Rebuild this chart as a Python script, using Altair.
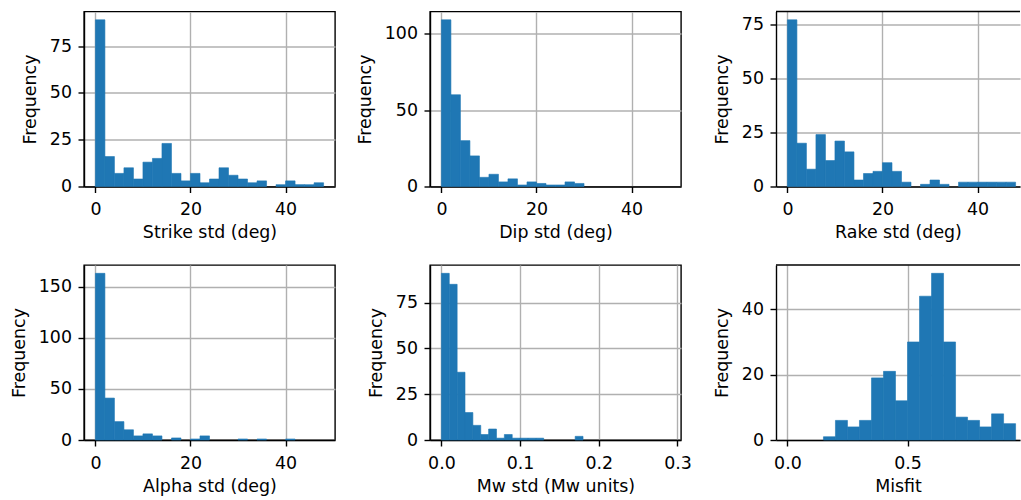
import altair as alt
import pandas as pd

# ---- bin edges (histogram bins) ----
DEG_EDGES = [0, 2, 4, 6, 8, 10, 12, 14, 16, 18, 20, 22, 24, 26, 28, 30, 32, 34, 36, 38, 40, 42, 44, 46, 48]
MW_EDGES = [0.00, 0.01, 0.02, 0.03, 0.04, 0.05, 0.06, 0.07, 0.08, 0.09, 0.10, 0.11, 0.12, 0.13, 0.14,
            0.15, 0.16, 0.17, 0.18, 0.19, 0.20, 0.21, 0.22, 0.23, 0.24, 0.25, 0.26, 0.27, 0.28, 0.29]
MISFIT_EDGES = [0.00, 0.05, 0.10, 0.15, 0.20, 0.25, 0.30, 0.35, 0.40, 0.45, 0.50,
                0.55, 0.60, 0.65, 0.70, 0.75, 0.80, 0.85, 0.90, 0.95]

# ---- counts per bin ----
STRIKE = [89, 16, 7, 10, 4, 13, 15, 23, 7, 3, 7, 2, 4, 10, 6, 4, 2, 3, 0, 1, 3, 1, 1, 2]
DIP = [109, 60, 30, 20, 6, 8, 3, 5, 1, 3, 2, 1, 1, 3, 2, 0, 0, 0, 0, 0, 0, 0, 0, 0]
RAKE = [77, 20, 8, 24, 12, 21, 16, 3, 6, 7, 11, 7, 2, 0, 1, 3, 1, 0, 2, 2, 2, 2, 2, 2]
ALPHA = [163, 41, 18, 10, 4, 6, 4, 0, 2, 0, 1, 4, 0, 0, 0, 1, 0, 1, 0, 0, 1, 0, 0, 0]
MW = [91, 85, 37, 15, 8, 3, 6, 1, 3, 1, 1, 1, 1, 0, 0, 0, 0, 2, 0, 0, 0, 0, 0, 0, 0, 0, 0, 0, 0]
MISFIT = [0, 0, 0, 1, 6, 4, 6, 19, 21, 12, 30, 44, 51, 30, 7, 6, 4, 8, 5]

# ---- tick labels ----
DEG_XTICKS = [0, 20, 40]
MW_XTICKS = [0.0, 0.1, 0.2, 0.3]
MISFIT_XTICKS = [0.0, 0.5]
STRIKE_YTICKS = [0, 25, 50, 75]
DIP_YTICKS = [0, 50, 100]
RAKE_YTICKS = [0, 25, 50, 75]
ALPHA_YTICKS = [0, 50, 100, 150]
MW_YTICKS = [0, 25, 50, 75]
MISFIT_YTICKS = [0, 20, 40]

FONT = "DejaVu Sans"
FS = 17.4
BLUE = "#1f77b4"
W = 251
W_CROP = 244
H = 175


def hist_df(edges, counts):
    return pd.DataFrame({"start": edges[:-1], "end": edges[1:], "count": counts})


def panel(edges, counts, title, xticks, yticks, xfmt, crop=False):
    lo, hi = edges[0], edges[-1]
    span = hi - lo
    xmin = lo - 0.05 * span
    xmax = hi + 0.05 * span
    width = W
    if crop:
        xmax = xmin + (xmax - xmin) * W_CROP / W
        width = W_CROP
    ymax = max(counts) * 1.05
    df = hist_df(edges, counts)
    bars = alt.Chart(df).mark_rect(color=BLUE, stroke=BLUE, strokeWidth=0.6).encode(
        x=alt.X("start:Q",
                scale=alt.Scale(domain=[xmin, xmax], nice=False, zero=False),
                axis=alt.Axis(values=xticks, format=xfmt, title=title)),
        x2="end:Q",
        y=alt.Y("count:Q",
                scale=alt.Scale(domain=[0, ymax], nice=False, zero=False),
                axis=alt.Axis(values=yticks, format="d", title="Frequency")),
        y2=alt.datum(0),
    ).transform_filter("datum.count > 0")
    if not crop:
        return bars.properties(width=width, height=H)
    top = alt.Chart(pd.DataFrame({"a": [0]})).mark_rule(color="black", strokeWidth=1.4).encode(
        x=alt.value(0), x2=alt.value(width), y=alt.value(0)
    )
    return alt.layer(bars, top).properties(
        width=width, height=H, view=alt.ViewBackground(strokeOpacity=0)
    )


p1 = panel(DEG_EDGES, STRIKE, "Strike std (deg)", DEG_XTICKS, STRIKE_YTICKS, "d")
p2 = panel(DEG_EDGES, DIP, "Dip std (deg)", DEG_XTICKS, DIP_YTICKS, "d")
p3 = panel(DEG_EDGES, RAKE, "Rake std (deg)", DEG_XTICKS, RAKE_YTICKS, "d", crop=True)
p4 = panel(DEG_EDGES, ALPHA, "Alpha std (deg)", DEG_XTICKS, ALPHA_YTICKS, "d")
p5 = panel(MW_EDGES, MW, "Mw std (Mw units)", MW_XTICKS, MW_YTICKS, ".1f")
p6 = panel(MISFIT_EDGES, MISFIT, "Misfit", MISFIT_XTICKS, MISFIT_YTICKS, ".1f", crop=True)

chart = alt.concat(
    p1, p2, p3, p4, p5, p6, columns=3,
    spacing={"row": 78.5, "column": 95}, bounds="flush",
).properties(
    padding={"left": 9, "top": 10.5, "right": 0, "bottom": 2},
    background="white",
).configure_view(
    stroke="black", strokeWidth=1.4
).configure_axis(
    labelFont=FONT, titleFont=FONT, labelFontSize=FS, titleFontSize=FS,
    labelColor="black", titleColor="black", titleFontWeight="normal",
    tickColor="black", tickSize=6, tickWidth=1.4,
    domainColor="black", domainWidth=1.4,
    grid=True, gridColor="#b0b0b0", gridWidth=1.4,
    labelFlush=False, labelOverlap=False, zindex=1,
).configure_axisX(
    labelPadding=8, titlePadding=6
).configure_axisY(
    labelPadding=6.5, titlePadding=10
)

chart.save("out.html", embed_options={"renderer": "svg", "actions": False})
